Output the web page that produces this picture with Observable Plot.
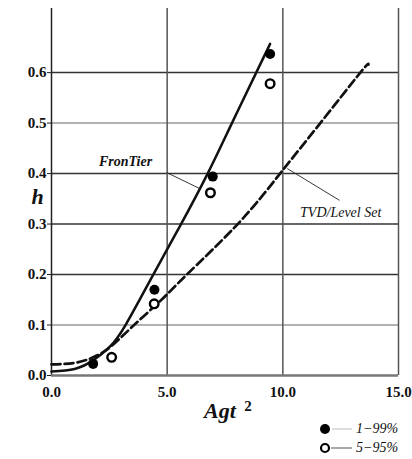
<!DOCTYPE html>
<html>
<head>
<meta charset="utf-8">
<script src="https://cdn.jsdelivr.net/npm/d3@7"></script>
<script src="https://cdn.jsdelivr.net/npm/@observablehq/plot@0.6"></script>
<style>
  html, body { margin: 0; padding: 0; background: white; }
  #wrap { position: relative; width: 412px; height: 459px; overflow: hidden; }
  #legend { position: absolute; left: 318px; top: 419px; font-family: "Liberation Serif"; font-style: italic; font-size: 14px; color: #111; }
  #legend .row { display: flex; align-items: center; height: 19px; }
  #legend svg { display: block; margin-right: 2px; }
</style>
</head>
<body>
<div id="wrap"></div>
<script>
const FONT = "Liberation Serif";

// Axis ticks
const xTicks = [0, 5, 10, 15];
const yTicks = [0, 0.1, 0.2, 0.3, 0.4, 0.5, 0.6];

// FronTier curve (solid)
const frontierX = [0, 1.0, 1.8, 2.5, 3.2, 4.4, 5.6, 6.75, 7.8, 8.85, 9.45];
const frontierY = [0.008, 0.013, 0.03, 0.056, 0.1, 0.2, 0.3, 0.4, 0.5, 0.6, 0.657];

// TVD/Level Set curve (dashed)
const tvdX = [0, 1.0, 1.8, 2.53, 3.5, 4.8, 5.85, 8.05, 9.88, 11.62, 13.35, 13.7];
const tvdY = [0.022, 0.025, 0.036, 0.056, 0.097, 0.152, 0.2, 0.3, 0.4, 0.5, 0.6, 0.616];

// Experimental points
const filledX = [1.8, 4.45, 6.97, 9.45];    // 1-99%
const filledY = [0.023, 0.17, 0.394, 0.637];
const openX = [2.6, 4.44, 6.87, 9.45];      // 5-95%
const openY = [0.036, 0.142, 0.362, 0.578];

// Annotations
const annLabels = ["FronTier", "TVD/Level Set"];
const annX = [3.2, 12.5];
const annY = [0.424, 0.323];
const leadX1 = [4.98, 10.19];
const leadY1 = [0.402, 0.41];
const leadX2 = [6.42, 12.45];
const leadY2 = [0.37, 0.347];

const frontier = frontierX.map((x, i) => ({x, y: frontierY[i]}));
const tvd = tvdX.map((x, i) => ({x, y: tvdY[i]}));
const filled = filledX.map((x, i) => ({x, y: filledY[i]}));
const open = openX.map((x, i) => ({x, y: openY[i]}));
const ann = annLabels.map((t, i) => ({t, x: annX[i], y: annY[i], x1: leadX1[i], y1: leadY1[i], x2: leadX2[i], y2: leadY2[i]}));

const chart = Plot.plot({
  width: 412,
  height: 459,
  marginLeft: 51,
  marginRight: 14,
  marginTop: 8,
  marginBottom: 84,
  x: {domain: [0, 15]},
  y: {domain: [0, 0.727]},
  style: {fontFamily: FONT, background: "white", color: "#111"},
  marks: [
    Plot.ruleY(yTicks.filter(d => d > 0), {y: d => d, stroke: d => (d === 0.5 || d === 0.1) ? "#9a9a9a" : "#333", strokeWidth: 1.5}),
    Plot.ruleX(xTicks.filter(d => d > 0), {x: d => d, y1: 0, y2: 0.727, stroke: "#555", strokeWidth: 1.5}),
    Plot.ruleX([0], {y1: 0, y2: 0.727, stroke: "#222", strokeWidth: 1.5}),
    Plot.ruleY([0], {stroke: "#777", strokeWidth: 2.5}),
    Plot.axisY({ticks: yTicks, tickFormat: d => d.toFixed(1), tickSize: 4, tickPadding: 1, fontSize: 15, fontWeight: "bold", fontFamily: FONT, label: null, stroke: "#222"}),
    Plot.axisX({ticks: xTicks, tickFormat: d => d.toFixed(1), tickSize: 0, tickPadding: 11, fontSize: 15, fontWeight: "bold", fontFamily: FONT, label: null}),
    Plot.line(tvd, {x: "x", y: "y", stroke: "#111", strokeWidth: 2.7, strokeDasharray: "9,4", curve: "natural"}),
    Plot.line(frontier, {x: "x", y: "y", stroke: "#111", strokeWidth: 2.5, curve: "natural"}),
    Plot.dot(filled, {x: "x", y: "y", r: 5, fill: "#000"}),
    Plot.dot(open, {x: "x", y: "y", r: 4.3, fill: "white", stroke: "#000", strokeWidth: 2.4}),
    Plot.link(ann, {x1: "x1", y1: "y1", x2: "x2", y2: "y2", stroke: "#222", strokeWidth: 0.9}),
    Plot.text(ann.slice(0, 1), {x: "x", y: "y", text: "t", fontSize: 14, fontStyle: "italic", fontWeight: "bold", fontFamily: FONT, fill: "#111"}),
    Plot.text(ann.slice(1), {x: "x", y: "y", text: "t", fontSize: 14, fontStyle: "italic", fontFamily: FONT, fill: "#111"}),
    Plot.text(["h"], {frameAnchor: "left", dx: -20, dy: 5, fontSize: 22, fontStyle: "italic", fontWeight: "bold", fontFamily: FONT, fill: "#111"}),
    Plot.text(["Agt"], {frameAnchor: "bottom", dx: -5, dy: 42, fontSize: 22, fontStyle: "italic", fontWeight: "bold", fontFamily: FONT, fill: "#111"}),
    Plot.text(["2"], {frameAnchor: "bottom", dx: 23, dy: 35, fontSize: 15, fontWeight: "bold", fontFamily: FONT, fill: "#111"})
  ]
});

const wrap = document.getElementById("wrap");
wrap.appendChild(chart);

// Legend
const legendItems = [
  {label: "1\u221299%", filled: true},
  {label: "5\u221295%", filled: false}
];
const legend = document.createElement("div");
legend.id = "legend";
for (const it of legendItems) {
  const row = document.createElement("div");
  row.className = "row";
  const s = d3.create("svg").attr("width", 36).attr("height", 14);
  if (it.filled) {
    s.append("circle").attr("cx", 7).attr("cy", 7).attr("r", 5).attr("fill", "#000");
    s.append("line").attr("x1", 14).attr("x2", 34).attr("y1", 7).attr("y2", 7).attr("stroke", "#bbb").attr("stroke-width", 1);
  } else {
    s.append("circle").attr("cx", 7).attr("cy", 7).attr("r", 4).attr("fill", "white").attr("stroke", "#000").attr("stroke-width", 2.2);
    s.append("line").attr("x1", 13).attr("x2", 34).attr("y1", 7).attr("y2", 7).attr("stroke", "#555").attr("stroke-width", 1);
  }
  row.appendChild(s.node());
  const t = document.createElement("span");
  t.textContent = it.label;
  row.appendChild(t);
  legend.appendChild(row);
}
wrap.appendChild(legend);
</script>
</body>
</html>
